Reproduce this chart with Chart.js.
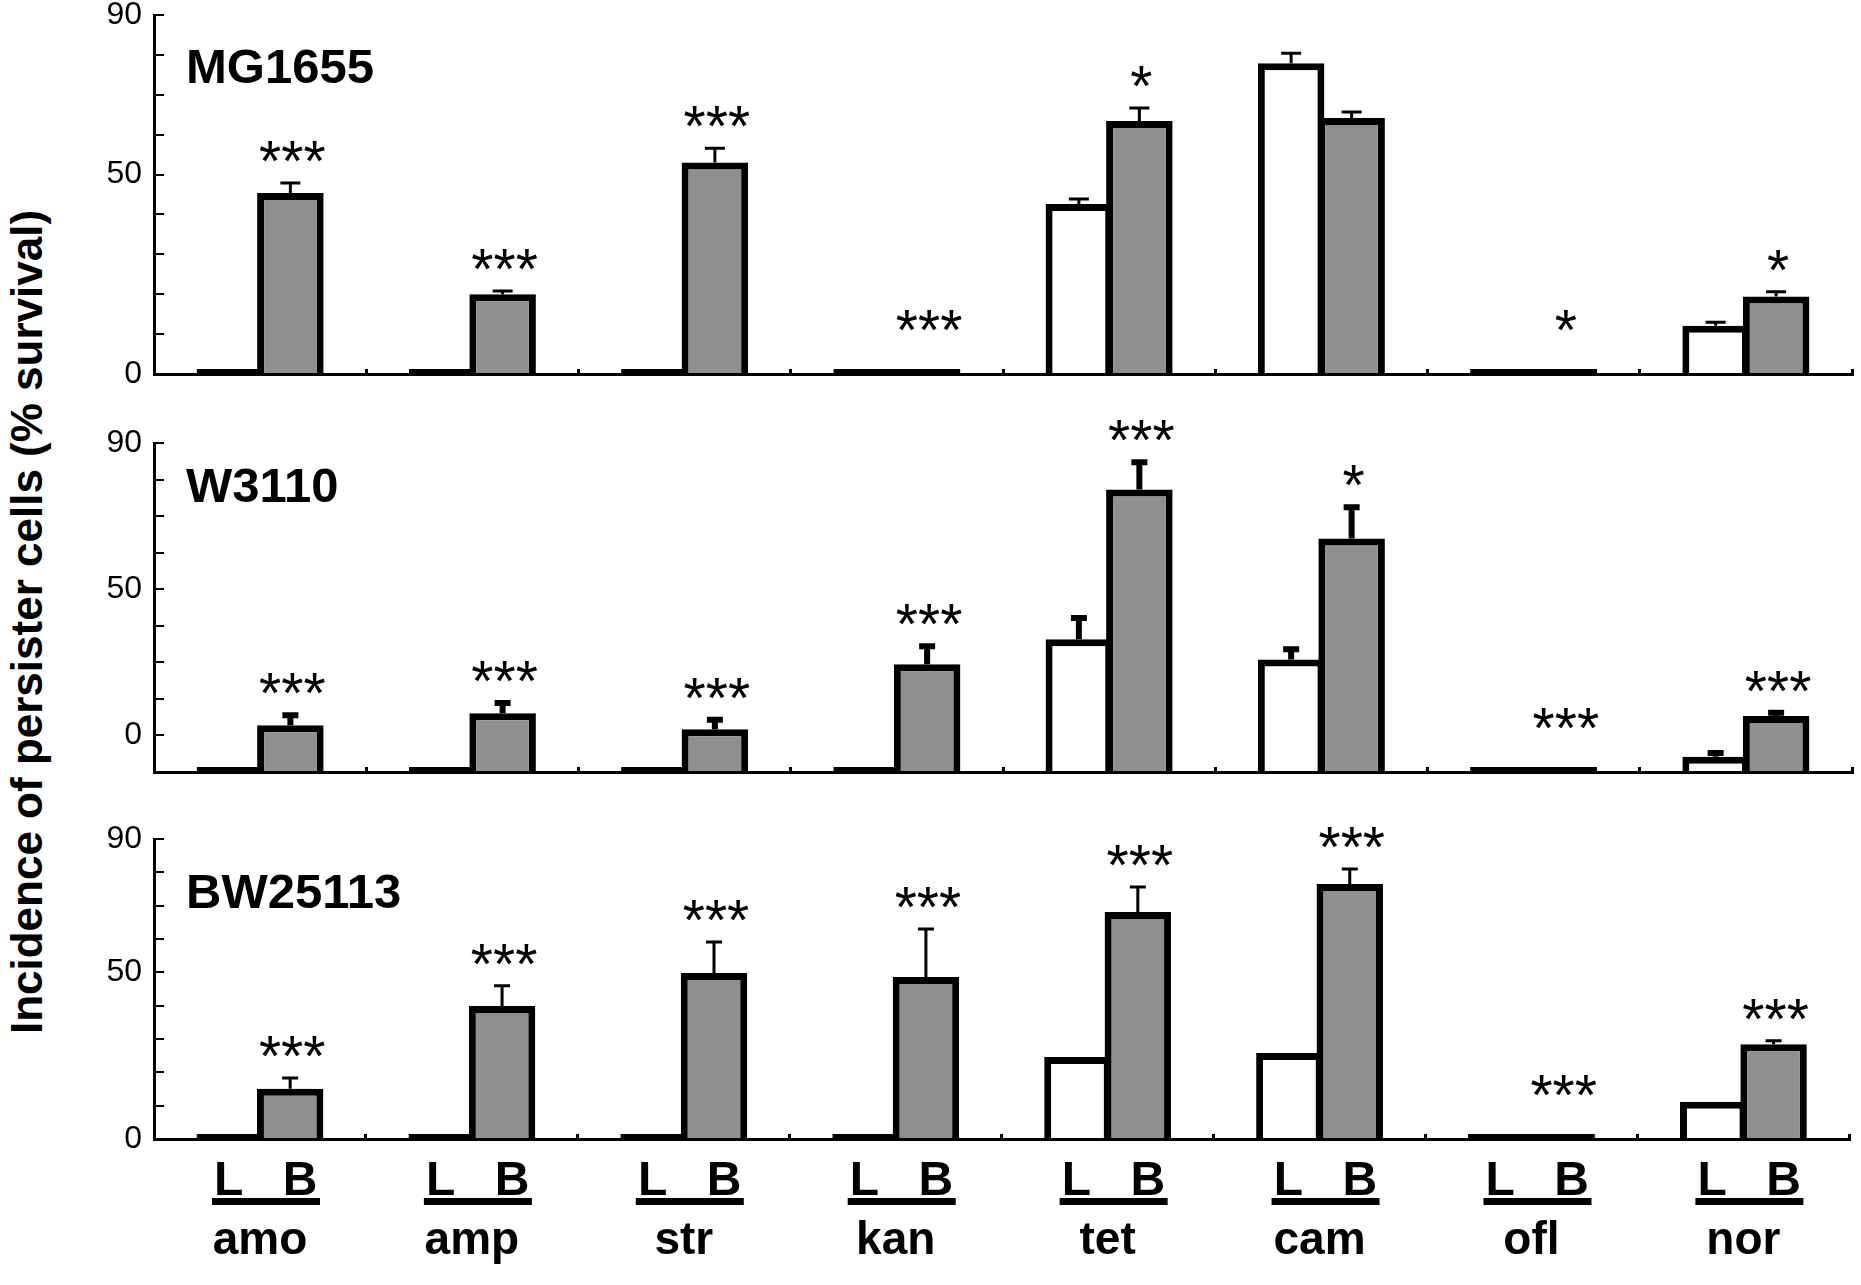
<!DOCTYPE html>
<html>
<head>
<meta charset="utf-8">
<script src="https://cdn.jsdelivr.net/npm/chart.js@4.4.1/dist/chart.umd.min.js"></script>
<style>
  html, body { margin: 0; padding: 0; background: #fff; overflow: hidden; }
  body { width: 1861px; height: 1285px; position: relative; font-family: "Liberation Sans", Arial, sans-serif; }
  .panel { position: absolute; left: 0; width: 1861px; }
  #ytitle {
    position: absolute; left: 27px; top: 622px;
    transform: translate(-50%, -50%) rotate(-90deg);
    white-space: nowrap; font-weight: bold; font-size: 44px; color: #000;
  }
</style>
</head>
<body>
<div id="ytitle">Incidence of persister cells (% survival)</div>
<div class="panel" style="top:-27px;height:443px"><canvas id="mg1655"></canvas></div>
<div class="panel" style="top:400px;height:414px"><canvas id="w3110"></canvas></div>
<div class="panel" style="top:797px;height:488px"><canvas id="bw25113"></canvas></div>

<script>
const antibiotics = ['amo', 'amp', 'str', 'kan', 'tet', 'cam', 'ofl', 'nor'];

// y tick labels at 0, 10, ... 90
const yTickText = ['0', '', '', '', '', '50', '', '', '', '90'];
const yTickTextW3110 = ['', '0', '', '', '', '50', '', '', '', '90'];

// MG1655
const mgL = [0, 0, 0, 0.3, 42.6, 77.9, 0, 12.1];
const mgLErr = [0, 0, 0, 0, 1.3, 2.5, 0, 0.9];
const mgB = [45.4, 20, 53, 0.5, 63.4, 64.2, 0.3, 19.4];
const mgBErr = [2.5, 0.8, 3.6, 0, 3.3, 1.5, 0, 1.2];
const mgStars = ['***', '***', '***', '***', '*', '', '*', '*'];

// W3110
const wL = [0, 0, 0, 0, 36.3, 30.8, 0, 4.2];
const wLErr = [0, 0, 0, 0, 5.8, 2.8, 0, 1];
const wB = [12.8, 16.1, 11.7, 29.5, 77.3, 63.9, 0, 15.3];
const wBErr = [2.7, 2.8, 2.6, 4.9, 7.4, 8.5, 0, 0.9];
const wStars = ['***', '***', '***', '***', '***', '*', '***', '***'];

// BW25113
const bwL = [0, 0, 0, 0, 24.6, 25.8, 0, 11.2];
const bwLErr = [0, 0, 0, 0, 0, 0, 0, 0];
const bwB = [15.1, 39.9, 49.8, 48.6, 68.1, 76.5, 0.4, 28.4];
const bwBErr = [3.2, 6.1, 9.3, 14.4, 7.5, 4.5, 0, 1.1];
const bwStars = ['***', '***', '***', '***', '***', '***', '***', '***'];

const FONT = '"Liberation Sans", Arial, sans-serif';

// upward error bars drawn from the bar top
const errorBars = {
  id: 'errorBars',
  afterDatasetsDraw(chart, args, opts) {
    const ctx = chart.ctx, y = chart.scales.y;
    chart.data.datasets.forEach((ds, i) => {
      chart.getDatasetMeta(i).data.forEach((bar, j) => {
        const e = ds.err[j];
        if (!e) return;
        const y0 = y.getPixelForValue(ds.data[j]);
        const y1 = y.getPixelForValue(ds.data[j] + e);
        ctx.save();
        ctx.strokeStyle = '#000';
        ctx.lineWidth = opts.width;
        ctx.beginPath();
        ctx.moveTo(bar.x, y0);
        ctx.lineTo(bar.x, y1);
        ctx.moveTo(bar.x - opts.cap / 2, y1);
        ctx.lineTo(bar.x + opts.cap / 2, y1);
        ctx.stroke();
        ctx.restore();
      });
    });
  }
};

// significance stars, strain name, and L/B group labels
const annotations = {
  id: 'annotations',
  afterDatasetsDraw(chart, args, opts) {
    const ctx = chart.ctx, y = chart.scales.y, area = chart.chartArea;
    const ds = chart.data.datasets[1];
    const base = y.getPixelForValue(0);
    const metaL = chart.getDatasetMeta(0), metaB = chart.getDatasetMeta(1);
    ctx.save();
    ctx.fillStyle = '#000';

    ctx.font = '57px ' + FONT;
    ctx.textAlign = 'center';
    ctx.textBaseline = 'alphabetic';
    opts.stars.forEach((s, j) => {
      if (!s) return;
      const top = y.getPixelForValue(ds.data[j] + ds.err[j]);
      ctx.fillText(s, metaB.data[j].x + 2, Math.min(top - 2, base - 24));
    });

    ctx.font = 'bold 49px ' + FONT;
    ctx.textAlign = 'left';
    ctx.fillText(opts.title, area.left + 32, area.top + opts.titleDy);

    if (opts.groups) {
      ctx.font = 'bold 48px ' + FONT;
      ctx.textAlign = 'center';
      metaL.data.forEach((bar, j) => {
        const xl = bar.x, xb = metaB.data[j].x;
        ctx.fillText('L', xl - 1, base + 56);
        ctx.fillText('B', xb + 10, base + 56);
        const mid = (xl + xb) / 2;
        ctx.fillRect(mid - 48, base + 59, 108, 7);
      });
    }
    ctx.restore();
  }
};

function makePanel(id, L, LErr, B, BErr, stars, cfg) {
  const barStyle = {
    borderColor: '#000',
    borderWidth: 7,
    borderSkipped: c => (c.raw < 1 ? false : 'start'),
    minBarLength: 5,
    categoryPercentage: 0.57,
    barPercentage: 1.1
  };
  return new Chart(document.getElementById(id), {
    type: 'bar',
    data: {
      labels: antibiotics,
      datasets: [
        Object.assign({ label: 'L', data: L, err: LErr, backgroundColor: '#ffffff' }, barStyle),
        Object.assign({ label: 'B', data: B, err: BErr, backgroundColor: '#8f8f8f' }, barStyle)
      ]
    },
    options: {
      responsive: true,
      maintainAspectRatio: false,
      animation: false,
      events: [],
      layout: { padding: { left: 0, right: 9, top: cfg.padTop, bottom: cfg.padBottom } },
      plugins: {
        legend: { display: false },
        tooltip: { enabled: false },
        errorBars: { width: cfg.errWidth, cap: cfg.errCap },
        annotations: { stars: stars, title: cfg.title, titleDy: cfg.titleDy, groups: cfg.groups }
      },
      scales: {
        x: {
          offset: true,
          ticks: {
            display: cfg.groups, padding: 80, color: '#000', autoSkip: false, maxRotation: 0,
            font: { family: FONT, size: 46, weight: 'bold' }
          },
          grid: { drawOnChartArea: false, offset: true, tickLength: -5, tickWidth: 3, lineWidth: 3, tickColor: '#000', color: '#000' },
          border: { display: true, color: '#000', width: 3 },
          afterFit: s => { s.height = cfg.xHeight; }
        },
        y: {
          min: 0, max: 90,
          ticks: {
            stepSize: 10, autoSkip: false, padding: 22, color: '#000',
            font: { family: FONT, size: 32 },
            callback: v => cfg.yTicks[Math.round(v / 10)]
          },
          grid: { drawOnChartArea: false, tickLength: -10, tickWidth: 2, lineWidth: 2, tickColor: '#000', color: '#000' },
          border: { display: true, color: '#000', width: 3 },
          afterFit: s => { s.width = 154; }
        }
      }
    },
    plugins: [errorBars, annotations]
  });
}

makePanel('mg1655', mgL, mgLErr, mgB, mgBErr, mgStars,
  { title: 'MG1655', titleDy: 68, yTicks: yTickText, padTop: 42, padBottom: 36, xHeight: 6, errWidth: 3, errCap: 20, groups: false });
makePanel('w3110', wL, wLErr, wB, wBErr, wStars,
  { title: 'W3110', titleDy: 59, yTicks: yTickTextW3110, padTop: 43, padBottom: 36, xHeight: 6, errWidth: 6, errCap: 16, groups: false });
makePanel('bw25113', bwL, bwLErr, bwB, bwBErr, bwStars,
  { title: 'BW25113', titleDy: 69, yTicks: yTickText, padTop: 42, padBottom: 0, xHeight: 146, errWidth: 3, errCap: 16, groups: true });
</script>
</body>
</html>
